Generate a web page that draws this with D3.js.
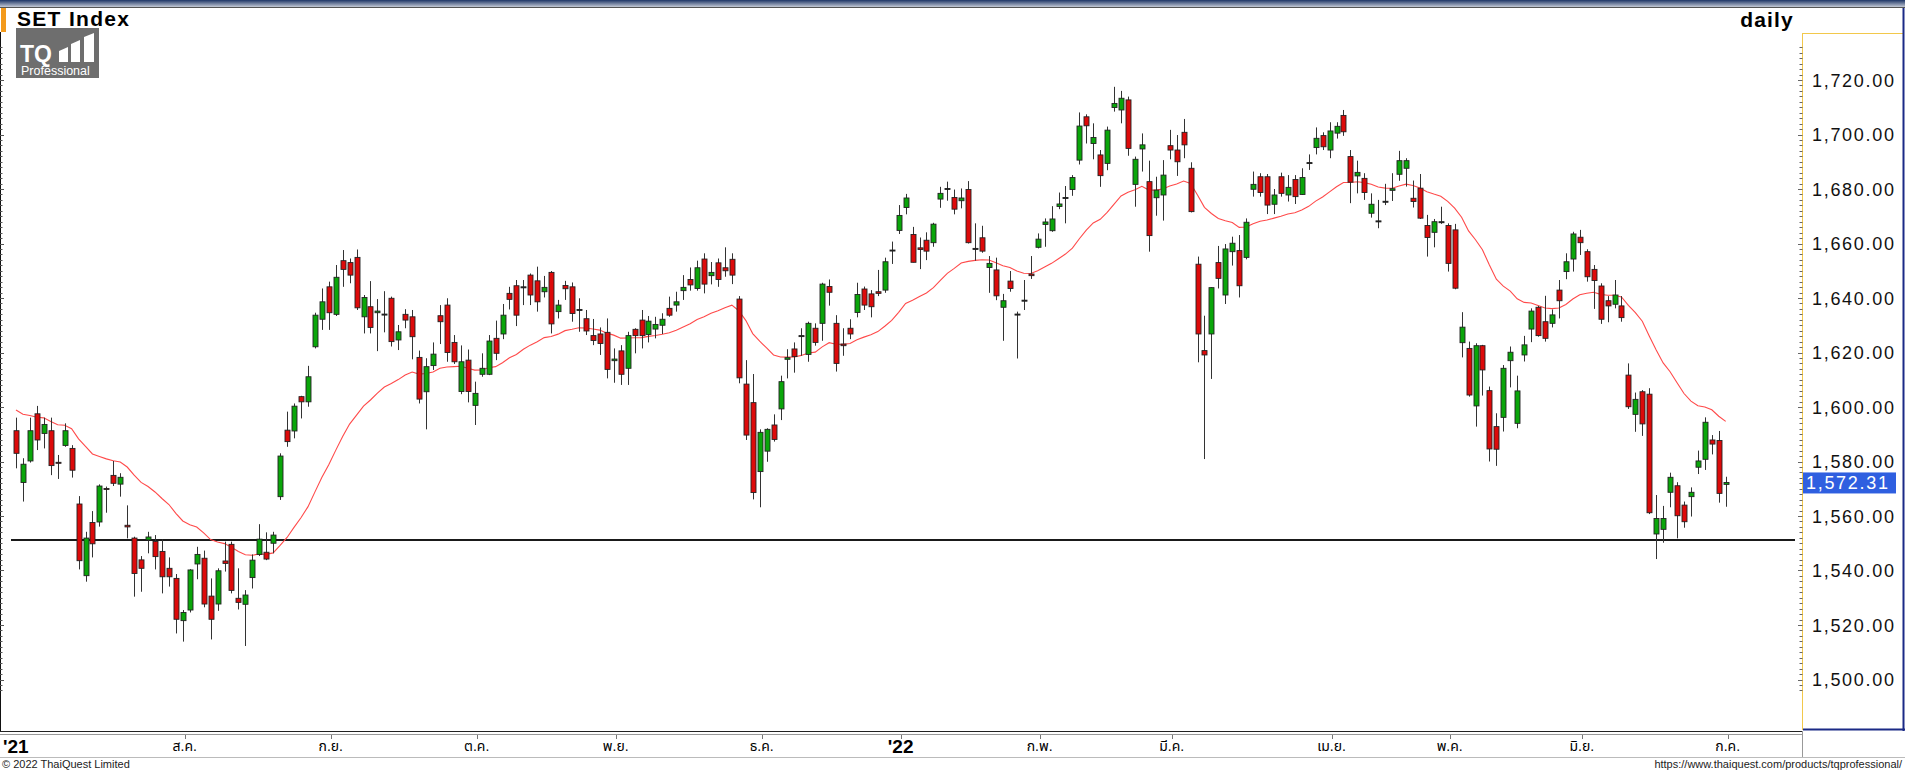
<!DOCTYPE html>
<html>
<head>
<meta charset="utf-8">
<script src="https://cdn.jsdelivr.net/npm/d3@7"></script>
<style>
body { margin: 0; background: #fff; }
svg { display: block; }
text { font-family: "Liberation Sans", Arial, "Noto Sans Thai", Tahoma, Loma, Garuda, sans-serif; }
</style>
</head>
<body>
<svg id="chart" width="1905" height="770"></svg>
<script>
// SET Index daily candles (oldest first)
var opens = [1591.3,1572.3,1580.2,1597.5,1590.3,1591.3,1579.7,1585.9,1584.8,1564.4,1538.1,1557.6,1557.8,1570.1,1574.9,1571.7,1556.6,1551.9,1543.9,1551.2,
	1550.7,1547.0,1540.8,1537.1,1521.6,1525.5,1542.4,1544.5,1530.6,1527.7,1543.5,1549.6,1529.8,1527.6,1537.4,1545.9,1546.7,1550.0,1567.1,1591.5,
	1591.2,1603.8,1601.9,1622.1,1632.2,1644.1,1634.0,1653.7,1653.0,1654.9,1633.1,1636.8,1634.6,1634.1,1639.9,1624.6,1634.0,1633.1,1618.2,1605.6,
	1615.2,1633.5,1637.4,1623.7,1605.7,1617.2,1600.6,1612.0,1612.0,1625.2,1626.8,1641.7,1644.5,1644.1,1648.4,1646.3,1642.3,1649.4,1635.0,1644.6,
	1644.1,1635.8,1632.4,1626.2,1626.8,1627.4,1617.0,1620.6,1614.2,1628.5,1631.9,1626.6,1628.6,1630.0,1636.2,1637.4,1642.7,1646.8,1643.5,1654.3,
	1648.2,1652.9,1651.1,1654.2,1639.6,1608.4,1601.6,1576.3,1583.8,1593.4,1599.3,1617.5,1621.3,1626.2,1619.3,1628.9,1630.7,1644.2,1630.7,1623.1,
	1628.9,1634.7,1643.3,1641.5,1642.3,1642.9,1657.6,1664.8,1673.2,1663.3,1658.4,1661.2,1660.3,1676.3,1680.2,1676.9,1675.7,1679.8,1658.2,1662.1,
	1651.2,1650.3,1636.6,1646.2,1634.1,1639.2,1648.8,1658.6,1667.0,1664.7,1673.6,1676.9,1679.8,1690.6,1706.5,1696.7,1692.5,1689.4,1709.9,1709.0,
	1712.7,1681.7,1694.7,1682.7,1676.8,1677.8,1695.9,1694.3,1700.8,1687.6,1652.4,1620.7,1626.8,1653.0,1641.1,1657.0,1657.4,1654.9,1679.9,1684.5,
	1684.5,1674.4,1684.5,1677.8,1683.5,1678.0,1689.7,1695.2,1699.6,1694.3,1700.5,1707.0,1691.9,1684.8,1683.9,1671.1,1668.3,1675.5,1679.5,1685.4,
	1687.6,1676.6,1680.3,1666.6,1664.1,1668.0,1666.6,1665.0,1623.6,1621.5,1600.4,1622.5,1606.0,1592.8,1596.2,1617.0,1594.0,1619.1,1628.6,1636.6,
	1631.3,1630.7,1642.9,1649.7,1654.3,1662.3,1657.0,1650.5,1644.4,1639.0,1637.7,1637.1,1611.7,1597.3,1605.6,1604.7,1553.4,1555.1,1568.7,1571.1,
	1564.0,1567.1,1577.9,1580.8,1587.9,1587.7,1571.6];
var highs = [1596.1,1581.2,1596.1,1600.4,1596.1,1596.1,1582.4,1594.0,1586.0,1567.3,1554.2,1561.8,1571.6,1570.8,1580.2,1575.7,1563.9,1552.4,1545.3,1554.2,
	1553.0,1551.4,1544.8,1538.7,1525.5,1540.5,1548.7,1547.3,1537.1,1540.8,1550.6,1550.6,1540.8,1532.8,1545.9,1557.0,1554.0,1554.2,1583.0,1598.3,
	1601.3,1604.1,1615.1,1634.6,1643.5,1646.0,1652.1,1657.6,1654.5,1657.8,1641.1,1646.2,1639.6,1642.5,1640.5,1630.1,1635.9,1635.6,1620.7,1617.9,
	1623.7,1637.4,1639.9,1626.4,1622.6,1621.1,1609.3,1619.7,1626.4,1631.7,1637.8,1644.1,1646.6,1646.6,1649.0,1651.5,1648.1,1649.9,1639.3,1646.3,
	1645.7,1639.9,1635.6,1632.3,1629.2,1632.5,1621.5,1622.7,1627.6,1628.9,1635.6,1633.4,1633.1,1634.4,1640.5,1642.3,1648.4,1651.2,1653.7,1656.4,
	1653.2,1654.5,1658.6,1656.4,1640.7,1617.2,1612.1,1591.8,1592.2,1597.3,1611.5,1621.2,1623.7,1628.9,1631.3,1630.7,1645.6,1646.8,1633.7,1628.9,
	1632.2,1645.6,1644.2,1642.9,1650.3,1654.8,1660.7,1674.1,1678.2,1666.1,1662.2,1664.1,1667.6,1680.8,1682.7,1679.8,1680.2,1682.9,1667.4,1666.5,
	1655.4,1654.8,1641.5,1649.9,1635.0,1646.6,1655.4,1663.7,1669.2,1673.7,1678.7,1681.1,1685.1,1708.1,1707.4,1704.1,1694.3,1702.9,1717.5,1716.0,
	1713.9,1691.9,1700.4,1690.4,1684.5,1690.6,1701.7,1699.8,1705.7,1689.8,1655.2,1633.5,1643.9,1659.1,1659.8,1662.5,1663.1,1669.2,1686.4,1685.8,
	1685.5,1680.0,1686.0,1685.1,1685.1,1687.6,1692.7,1702.6,1700.8,1704.5,1704.5,1709.0,1694.3,1690.4,1685.8,1678.4,1676.0,1681.9,1685.8,1694.0,
	1691.3,1683.1,1685.5,1670.5,1669.0,1673.5,1667.4,1667.2,1634.8,1624.0,1623.4,1622.8,1607.5,1597.7,1615.4,1622.2,1611.5,1626.1,1636.2,1637.1,
	1640.8,1635.8,1646.6,1656.4,1664.3,1665.0,1657.9,1652.1,1645.4,1640.7,1646.6,1640.7,1616.0,1605.3,1606.2,1606.9,1567.7,1563.7,1575.9,1572.4,
	1565.3,1570.5,1584.0,1596.2,1589.7,1591.2,1574.4];
var lows = [1577.5,1565.3,1579.6,1584.2,1584.8,1575.0,1573.6,1585.4,1574.1,1540.4,1535.9,1544.8,1556.1,1561.2,1571.0,1567.1,1551.8,1530.4,1532.2,1546.3,
	1540.4,1531.6,1534.1,1516.9,1513.9,1524.6,1536.8,1526.5,1514.7,1525.2,1539.6,1531.6,1525.7,1512.3,1533.4,1545.3,1543.8,1546.3,1565.9,1585.4,
	1588.5,1595.8,1600.1,1621.5,1628.3,1628.3,1633.4,1644.1,1645.4,1635.6,1627.0,1627.0,1620.5,1627.4,1622.2,1620.9,1628.9,1617.5,1601.3,1591.8,
	1613.6,1623.1,1616.6,1615.8,1604.7,1601.7,1593.4,1611.1,1611.7,1617.2,1624.9,1635.8,1629.7,1637.4,1637.4,1635.0,1640.2,1627.0,1632.5,1639.3,
	1631.3,1627.6,1626.4,1622.7,1619.1,1610.5,1608.9,1608.1,1608.1,1619.7,1621.5,1623.7,1625.2,1626.8,1633.1,1635.0,1639.3,1642.7,1642.7,1641.7,
	1645.0,1644.1,1647.8,1645.1,1608.7,1587.9,1566.1,1563.2,1579.9,1587.3,1595.2,1610.5,1612.6,1618.8,1616.6,1622.5,1624.3,1637.2,1613.0,1618.8,
	1624.9,1632.9,1635.6,1632.9,1640.7,1641.9,1652.5,1663.5,1670.7,1653.1,1650.6,1653.9,1658.8,1673.1,1675.7,1670.7,1672.9,1660.0,1653.7,1656.6,
	1641.9,1639.2,1624.3,1642.3,1617.8,1635.6,1647.0,1658.2,1658.8,1664.3,1672.6,1667.4,1677.5,1689.0,1696.7,1690.9,1680.8,1686.9,1708.4,1704.1,
	1692.2,1673.5,1686.4,1657.0,1670.2,1668.4,1690.9,1684.8,1691.3,1671.4,1616.4,1580.9,1610.3,1643.5,1637.8,1651.9,1640.2,1654.2,1677.2,1677.2,
	1670.8,1670.8,1677.2,1675.4,1674.5,1677.8,1687.0,1692.7,1694.3,1691.3,1698.5,1699.5,1674.8,1678.4,1676.0,1669.5,1665.6,1674.1,1675.6,1683.0,
	1680.9,1673.2,1669.0,1655.2,1658.6,1667.2,1649.7,1643.2,1618.2,1603.8,1592.8,1604.2,1580.0,1578.4,1591.0,1607.2,1592.2,1616.7,1623.8,1625.8,
	1624.0,1629.2,1632.5,1646.9,1649.7,1655.8,1646.0,1636.0,1630.5,1631.1,1636.2,1631.3,1599.3,1590.9,1589.4,1560.7,1544.2,1550.2,1563.2,1551.8,
	1555.7,1559.8,1575.4,1576.9,1582.6,1564.9,1563.4];
var closes = [1583.0,1579.0,1591.3,1587.9,1593.6,1578.5,1579.5,1591.3,1576.8,1543.6,1551.9,1549.8,1571.0,1570.0,1572.0,1574.2,1556.0,1538.9,1540.8,1552.3,
	1545.1,1537.7,1537.7,1522.1,1524.6,1540.2,1545.9,1527.7,1522.1,1539.9,1542.6,1532.7,1528.3,1531.0,1543.8,1551.5,1544.2,1553.0,1582.0,1587.3,
	1600.3,1601.9,1611.1,1633.7,1638.6,1634.6,1647.6,1650.5,1648.4,1636.4,1640.2,1629.2,1635.2,1634.1,1624.0,1627.6,1631.9,1625.8,1602.9,1614.8,
	1619.4,1631.3,1620.0,1616.6,1616.6,1605.7,1605.0,1614.2,1624.2,1619.7,1633.7,1639.5,1633.7,1644.1,1641.1,1638.6,1643.9,1630.5,1637.4,1643.4,
	1634.3,1635.8,1627.9,1624.4,1623.3,1613.8,1617.6,1612.0,1626.2,1626.2,1626.2,1631.5,1630.3,1632.2,1633.7,1638.6,1643.9,1644.8,1651.1,1645.1,
	1649.4,1646.8,1650.0,1648.4,1610.7,1589.7,1568.6,1590.7,1591.8,1588.1,1609.3,1618.1,1618.5,1626.2,1630.7,1623.7,1645.1,1642.1,1616.0,1622.5,
	1626.8,1641.3,1637.4,1636.8,1641.7,1653.3,1657.6,1670.3,1676.7,1653.1,1657.8,1657.2,1667.1,1678.4,1680.2,1672.6,1676.7,1660.3,1658.2,1657.2,
	1652.7,1640.8,1639.0,1643.5,1634.1,1639.2,1648.2,1661.6,1667.9,1669.0,1674.5,1676.9,1684.2,1703.1,1703.2,1698.9,1684.9,1701.6,1711.4,1713.3,
	1694.9,1690.9,1696.2,1662.9,1679.6,1685.1,1694.3,1690.0,1696.2,1671.7,1626.8,1619.1,1643.8,1647.2,1658.0,1660.1,1644.5,1667.8,1681.7,1678.7,
	1674.1,1677.8,1678.4,1680.6,1677.2,1684.2,1689.7,1698.6,1695.5,1701.3,1703.0,1701.0,1682.5,1686.1,1678.7,1674.4,1668.3,1675.5,1680.1,1690.4,
	1690.4,1675.4,1669.3,1662.2,1668.0,1668.0,1652.7,1643.6,1629.3,1604.4,1622.5,1613.6,1584.6,1584.5,1614.2,1620.1,1605.9,1622.8,1635.2,1626.2,
	1625.2,1633.8,1639.0,1653.3,1663.5,1660.3,1647.8,1646.4,1632.2,1637.1,1641.1,1632.8,1600.1,1602.8,1593.8,1561.2,1559.1,1559.1,1574.2,1560.1,
	1557.9,1568.7,1580.2,1594.4,1586.4,1568.3,1572.31];

// first trading day of each month (candle index) and its label
var monthIdx = [24, 45, 66, 86, 107, 127, 147, 166, 189, 206, 225, 246];
var monthLabels = ["ส.ค.", "ก.ย.", "ต.ค.", "พ.ย.", "ธ.ค.", "'22", "ก.พ.", "มี.ค.", "เม.ย.", "พ.ค.", "มิ.ย.", "ก.ค."];
var yTicks = [1500, 1520, 1540, 1560, 1580, 1600, 1620, 1640, 1660, 1680, 1700, 1720];

var emaPeriod = 25,
	emaFirst = 1598.9,   // value of the average on the first visible day
	supportLevel = 1551.2,
	lastPrice = 1572.31;

var svg = d3.select("#chart"),
	width = +svg.attr("width"),
	height = +svg.attr("height");

var n = closes.length;
var x = d3.scaleLinear().domain([0, n - 1]).range([16, 1725.7]);
var y = d3.scaleLinear().domain([1500, 1720]).range([679.5, 80]);

var defs = svg.append("defs");
var grad = defs.append("linearGradient").attr("id", "topbar").attr("x1", 0).attr("y1", 0).attr("x2", 0).attr("y2", 1);
grad.append("stop").attr("offset", "0%").attr("stop-color", "#1d3566");
grad.append("stop").attr("offset", "100%").attr("stop-color", "#c4cad6");

// frame
svg.append("rect").attr("x", 0).attr("y", 0).attr("width", width).attr("height", 7).attr("fill", "url(#topbar)");
svg.append("line").attr("x1", 0).attr("x2", width).attr("y1", 7.5).attr("y2", 7.5).attr("stroke", "#555");
svg.append("rect").attr("x", 1).attr("y", 8).attr("width", 5).attr("height", 24).attr("fill", "#f39a1c");
svg.append("line").attr("x1", 0.5).attr("x2", 0.5).attr("y1", 32).attr("y2", 731).attr("stroke", "#111");

// left edge minor ticks
var minor = d3.range(1496, 1734, 2);
svg.append("g").selectAll("line").data(minor).enter().append("line")
	.attr("x1", 0).attr("x2", function(d) { return d % 20 === 0 ? 4 : 2.5; })
	.attr("y1", function(d) { return Math.round(y(d)) + 0.5; })
	.attr("y2", function(d) { return Math.round(y(d)) + 0.5; })
	.attr("stroke", "#555");

// title and logo
svg.append("text").attr("x", 17).attr("y", 26).attr("font-size", 21).attr("letter-spacing", 1.3)
	.attr("font-weight", "bold").text("SET Index");
svg.append("text").attr("x", 1794).attr("y", 27).attr("font-size", 21).attr("letter-spacing", 1.2)
	.attr("font-weight", "bold").attr("text-anchor", "end").text("daily");

var logo = svg.append("g");
logo.append("rect").attr("x", 16).attr("y", 28).attr("width", 83).attr("height", 50).attr("fill", "#6e6e6e");
logo.append("text").attr("x", 20).attr("y", 62).attr("font-size", 23).attr("font-weight", "bold").attr("fill", "#fff").text("TQ");
var bars = [[59, 47, 9], [71, 40, 9], [84, 33, 10]];
logo.selectAll(".bar").data(bars).enter().append("path").attr("class", "bar")
	.attr("d", function(b) { return "M" + b[0] + "," + (b[1] + 4) + "L" + (b[0] + b[2]) + "," + b[1] + "L" + (b[0] + b[2]) + ",62L" + b[0] + ",62Z"; })
	.attr("fill", "#fff");
logo.append("text").attr("x", 21).attr("y", 75).attr("font-size", 12.5).attr("fill", "#fff").text("Professional");

// price axis panel
var axisX = 1802.5;
svg.append("line").attr("x1", axisX).attr("x2", axisX).attr("y1", 33).attr("y2", 730).attr("stroke", "#f2c84b");
svg.append("line").attr("x1", 1803).attr("x2", 1903).attr("y1", 33.5).attr("y2", 33.5).attr("stroke", "#f2c84b");
svg.append("line").attr("x1", 1903.5).attr("x2", 1903.5).attr("y1", 8).attr("y2", 731).attr("stroke", "#1b2a86").attr("stroke-width", 2);
svg.append("line").attr("x1", 1803).attr("x2", 1905).attr("y1", 729.5).attr("y2", 729.5).attr("stroke", "#1b2a86").attr("stroke-width", 2);

svg.append("g").selectAll("line").data(minor).enter().append("line")
	.attr("x1", function(d) { return d % 20 === 0 ? 1798 : 1799.5; }).attr("x2", axisX)
	.attr("y1", function(d) { return Math.round(y(d)) + 0.5; })
	.attr("y2", function(d) { return Math.round(y(d)) + 0.5; })
	.attr("stroke", "#666");

var fmt = d3.format(",.2f");
svg.append("g").selectAll("text").data(yTicks).enter().append("text")
	.attr("x", 1812).attr("y", function(d) { return y(d) + 6.5; })
	.attr("font-size", 18).attr("letter-spacing", 1.7).attr("fill", "#111")
	.text(function(d) { return fmt(d); });

// support line
svg.append("line").attr("x1", 11).attr("x2", 1795)
	.attr("y1", y(supportLevel)).attr("y2", y(supportLevel))
	.attr("stroke", "#1a1a1a").attr("stroke-width", 2.2);

// exponential average of closes
var k = 2 / (emaPeriod + 1), ema = [emaFirst];
for (var i = 1; i < n; i++) {
	ema.push(ema[i - 1] + k * (closes[i] - ema[i - 1]));
}
var line = d3.line()
	.x(function(d, i) { return x(i); })
	.y(function(d) { return y(d); });
svg.append("path").datum(ema).attr("d", line)
	.attr("fill", "none").attr("stroke", "#ff4a4a").attr("stroke-width", 1.1);

// candles
var idx = d3.range(n);
var candles = svg.append("g").selectAll("g").data(idx).enter().append("g");
candles.append("line")
	.attr("x1", function(i) { return Math.round(x(i)) + 0.5; })
	.attr("x2", function(i) { return Math.round(x(i)) + 0.5; })
	.attr("y1", function(i) { return y(highs[i]); })
	.attr("y2", function(i) { return y(lows[i]); })
	.attr("stroke", "#333").attr("stroke-width", 1);
candles.append("rect")
	.attr("x", function(i) { return Math.round(x(i)) - 2; })
	.attr("width", 5)
	.attr("y", function(i) { return y(Math.max(opens[i], closes[i])); })
	.attr("height", function(i) { return Math.max(1, Math.abs(y(opens[i]) - y(closes[i]))); })
	.attr("fill", function(i) {
		if (Math.abs(closes[i] - opens[i]) < 0.05) return "#111";
		return closes[i] >= opens[i] ? "#0aa60a" : "#dd0a0a";
	})
	.attr("stroke", "#222").attr("stroke-width", 0.9);

// last price tag
svg.append("rect").attr("x", 1803).attr("y", y(lastPrice) - 10).attr("width", 93).attr("height", 21).attr("fill", "#2f5fe0");
svg.append("text").attr("x", 1806).attr("y", y(lastPrice) + 6.5)
	.attr("font-size", 18).attr("letter-spacing", 1.7).attr("fill", "#fff").text(fmt(lastPrice));

// time axis
svg.append("line").attr("x1", 0).attr("x2", 1803).attr("y1", 731.5).attr("y2", 731.5).attr("stroke", "#222");
svg.append("line").attr("x1", 0).attr("x2", 1803).attr("y1", 734.5).attr("y2", 734.5).attr("stroke", "#999");
svg.append("line").attr("x1", 1802.5).attr("x2", 1802.5).attr("y1", 731).attr("y2", 757).attr("stroke", "#999");
svg.append("g").selectAll("line").data(monthIdx).enter().append("line")
	.attr("x1", function(d) { return Math.round(x(d)) + 2.5; })
	.attr("x2", function(d) { return Math.round(x(d)) + 2.5; })
	.attr("y1", 735).attr("y2", 739).attr("stroke", "#777");
svg.append("text").attr("x", 3).attr("y", 753).attr("font-size", 19).attr("font-weight", "bold").text("'21");
svg.append("g").selectAll("text").data(monthIdx).enter().append("text")
	.attr("x", function(d) { return x(d) + 2; }).attr("y", function(d, i) { return monthLabels[i].charAt(0) === "'" ? 753 : 751; })
	.attr("text-anchor", "middle")
	.attr("font-size", function(d, i) { return monthLabels[i].charAt(0) === "'" ? 19 : 14; })
	.attr("font-weight", function(d, i) { return monthLabels[i].charAt(0) === "'" ? "bold" : "normal"; })
	.text(function(d, i) { return monthLabels[i]; });

svg.append("line").attr("x1", 0).attr("x2", width).attr("y1", 757.5).attr("y2", 757.5).attr("stroke", "#bbb");
svg.append("text").attr("x", 2).attr("y", 768).attr("font-size", 11).attr("fill", "#222").text("© 2022 ThaiQuest Limited");
svg.append("text").attr("x", 1902).attr("y", 768).attr("font-size", 11).attr("fill", "#222").attr("text-anchor", "end")
	.text("https://www.thaiquest.com/products/tqprofessional/");
</script>
</body>
</html>
